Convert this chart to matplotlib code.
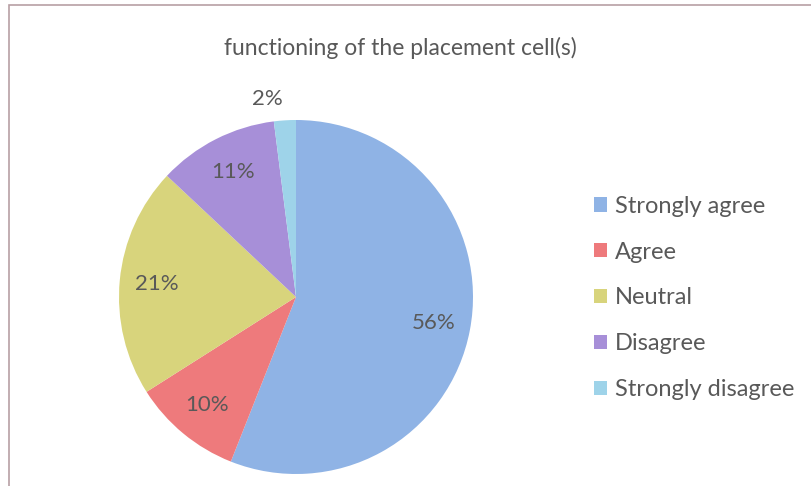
import matplotlib.pyplot as plt
from matplotlib.patches import Rectangle

# ==========================================
# DATA
# ==========================================
categories = ["Strongly agree", "Agree", "Neutral", "Disagree", "Strongly disagree"]
shares = [56, 10, 21, 11, 2]
colors = ["#8fb3e5", "#ee7a7c", "#d8d47c", "#a78fd8", "#9ed3e9"]

plt.rcParams["font.family"] = ["Lato", "DejaVu Sans"]
text_color = "#595959"

fig = plt.figure(figsize=(8.12, 4.86), dpi=100)
fig.patch.set_facecolor("white")

# chart frame (scan shows a top and left border)
fig.add_artist(Rectangle((9 / 812, -0.1), 1.2, 1 - 5 / 486 + 0.1,
                         transform=fig.transFigure, fill=False,
                         edgecolor="#b8a0a4", linewidth=1.2))

fig.text(400 / 812, 1 - 48 / 486, "functioning of the placement cell(s)",
         ha="center", va="center", fontsize=16.5, color=text_color)

# pie axes: centre ~ (296, 297) px, radius ~177 px
ax = fig.add_axes([119 / 812, 12 / 486, 354 / 812, 354 / 486])
wedges, texts, autotexts = ax.pie(
    shares,
    colors=colors,
    startangle=90,
    counterclock=False,
    autopct="%d%%",
    pctdistance=0.79,
    textprops=dict(color=text_color, fontsize=16),
)
autotexts[-1].set_position((-0.16, 1.12))
ax.set_xlim(-1, 1)
ax.set_ylim(-1, 1)
ax.set_aspect("equal")

leg = fig.legend(wedges, categories, loc="center left",
                 bbox_to_anchor=(594 / 812, 1 - 298 / 486),
                 frameon=False, fontsize=17, handlelength=0.55,
                 handleheight=0.55, handletextpad=0.35, labelspacing=1.05,
                 borderpad=0, borderaxespad=0)
for t in leg.get_texts():
    t.set_color(text_color)

fig.savefig("out.png", dpi=100)
